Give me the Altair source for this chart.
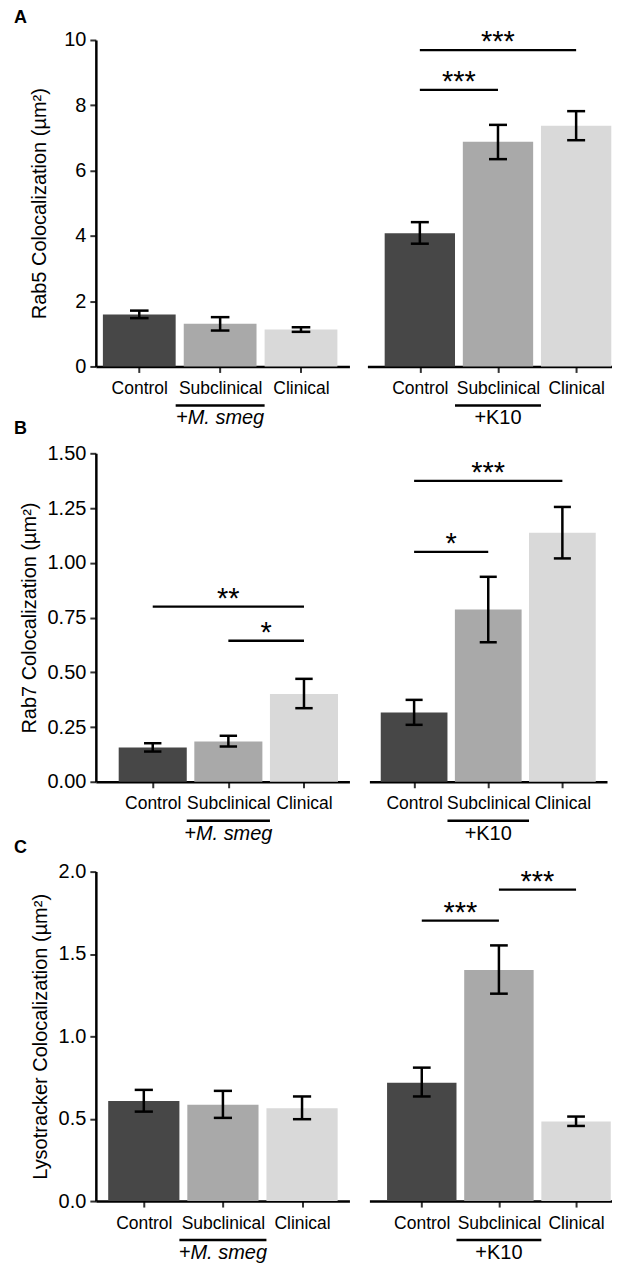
import altair as alt
import pandas as pd

FONT = "Liberation Sans"

categories = ["Control", "Subclinical", "Clinical"]
bar_colors = ["#474747", "#a9a9a9", "#d9d9d9"]
panel_letters = ["A", "B", "C"]

# ---- Panel A: Rab5 ----
rab5_smeg_mean = [1.59, 1.31, 1.13]
rab5_smeg_lo = [1.48, 1.10, 1.06]
rab5_smeg_hi = [1.71, 1.51, 1.20]
rab5_k10_mean = [4.08, 6.88, 7.37]
rab5_k10_lo = [3.76, 6.35, 6.93]
rab5_k10_hi = [4.42, 7.40, 7.82]
rab5_k10_sig_from = [0, 0]
rab5_k10_sig_to = [1, 2]
rab5_k10_sig_y = [8.47, 9.69]
rab5_k10_sig_text = ["***", "***"]

# ---- Panel B: Rab7 ----
rab7_smeg_mean = [0.156, 0.184, 0.401]
rab7_smeg_lo = [0.138, 0.161, 0.336]
rab7_smeg_hi = [0.176, 0.210, 0.470]
rab7_smeg_sig_from = [0, 1]
rab7_smeg_sig_to = [2, 2]
rab7_smeg_sig_y = [0.80, 0.644]
rab7_smeg_sig_text = ["**", "*"]
rab7_k10_mean = [0.316, 0.787, 1.137]
rab7_k10_lo = [0.260, 0.637, 1.020]
rab7_k10_hi = [0.374, 0.936, 1.255]
rab7_k10_sig_from = [0, 0]
rab7_k10_sig_to = [1, 2]
rab7_k10_sig_y = [1.05, 1.374]
rab7_k10_sig_text = ["*", "***"]

# ---- Panel C: Lysotracker ----
lyso_smeg_mean = [0.608, 0.584, 0.564]
lyso_smeg_lo = [0.543, 0.505, 0.497]
lyso_smeg_hi = [0.675, 0.669, 0.635]
lyso_k10_mean = [0.719, 1.402, 0.483]
lyso_k10_lo = [0.635, 1.259, 0.456]
lyso_k10_hi = [0.810, 1.552, 0.513]
lyso_k10_sig_from = [0, 1]
lyso_k10_sig_to = [1, 2]
lyso_k10_sig_y = [1.703, 1.891]
lyso_k10_sig_text = ["***", "***"]

group_smeg = "+M. smeg"
group_k10 = "+K10"


def panel(mean, lo, hi, sig, group, italic, ydomain, yticks, yfmt, ytitle,
          show_y, width, height, xdomain, letters=(), ytitle_pad=8):
    pos = list(range(len(categories)))
    df = pd.DataFrame({"pos": pos, "cat": categories, "mean": mean,
                       "lo": lo, "hi": hi})
    xs = alt.Scale(domain=xdomain, nice=False, zero=False)
    ys = alt.Scale(domain=ydomain, nice=False, zero=False)
    label_expr = "[" + ",".join("'%s'" % c for c in categories) + "][datum.value]"
    xaxis = alt.Axis(values=pos, labelExpr=label_expr, title=None, grid=False,
                     tickSize=6, tickWidth=2, tickColor="#333333",
                     domainColor="black", domainWidth=2.5,
                     labelFontSize=17.5, labelPadding=7, labelColor="black",
                     labelFont=FONT)
    if show_y:
        yaxis = alt.Axis(values=yticks, format=yfmt, title=ytitle, grid=False,
                         tickSize=6, tickWidth=2, tickColor="#333333",
                         domainColor="black", domainWidth=2.5,
                         labelFontSize=20, labelPadding=4, labelColor="black",
                         labelFont=FONT, titleFont=FONT, titleFontSize=20,
                         titleFontWeight="normal", titleColor="black",
                         titlePadding=ytitle_pad)
    else:
        yaxis = None

    def X(field):
        return alt.X(field, scale=xs, axis=xaxis)

    def Y(field):
        return alt.Y(field, scale=ys, axis=yaxis)

    base = alt.Chart(df)
    bars = base.transform_calculate(
        b0="datum.pos - 0.45", b1="datum.pos + 0.45"
    ).mark_bar().encode(
        x=X("b0:Q"),
        x2="b1:Q",
        y=Y("mean:Q"),
        y2=alt.Y2(datum=0),
        color=alt.Color("cat:N", scale=alt.Scale(domain=categories, range=bar_colors),
                        legend=None),
    )
    stems = base.mark_rule(color="black", strokeWidth=2.5).encode(
        x=X("pos:Q"),
        y=Y("lo:Q"),
        y2="hi:Q",
    )
    caps = base.transform_fold(["lo", "hi"], as_=["k", "v"]).transform_calculate(
        c0="datum.pos - 0.115", c1="datum.pos + 0.115"
    ).mark_rule(color="black", strokeWidth=2.5).encode(
        x=X("c0:Q"),
        x2="c1:Q",
        y=Y("v:Q"),
    )
    layers = [bars, stems, caps]

    if sig is not None:
        sfrom, sto, sy, stext = sig
        sdf = pd.DataFrame({"a": sfrom, "b": sto, "y": sy, "lab": stext})
        lines = alt.Chart(sdf).mark_rule(color="black", strokeWidth=2.3).encode(
            x=X("a:Q"),
            x2="b:Q",
            y=Y("y:Q"),
        )
        stars = alt.Chart(sdf).transform_calculate(
            m="(datum.a + datum.b) / 2"
        ).mark_text(fontSize=29, baseline="alphabetic", dy=1, font=FONT,
                    color="black").encode(
            x=X("m:Q"),
            y=Y("y:Q"),
            text="lab:N",
        )
        layers += [lines, stars]

    gdf = pd.DataFrame({"pos": [1], "lab": [group]})
    gline = alt.Chart(gdf).transform_calculate(
        g0="datum.pos - 0.55", g1="datum.pos + 0.55"
    ).mark_rule(color="black", strokeWidth=2.5).encode(
        x=X("g0:Q"),
        x2="g1:Q",
        y=alt.value(height + 39),
    )
    glabel = alt.Chart(gdf).mark_text(
        fontSize=20, font=FONT, baseline="middle", color="black",
        fontStyle="italic" if italic else "normal",
    ).encode(
        x=X("pos:Q"),
        y=alt.value(height + 52),
        text="lab:N",
    )
    layers += [gline, glabel]

    # panel letters (A, B, C) placed at the upper-left of each row
    for letter, ly in letters:
        ldf = pd.DataFrame({"lab": [letter]})
        layers.append(
            alt.Chart(ldf).mark_text(
                fontSize=18, fontWeight="bold", font=FONT, color="black",
                align="left", baseline="middle",
            ).encode(x=alt.value(-82), y=alt.value(ly), text="lab:N")
        )
    return alt.layer(*layers).properties(width=width, height=height)


A_left = panel(rab5_smeg_mean, rab5_smeg_lo, rab5_smeg_hi, None, group_smeg, True,
               [0, 10], [0, 2, 4, 6, 8, 10], "d", "Rab5 Colocalization (µm²)",
               True, 254, 327, [-0.537, 2.599],
               letters=[(panel_letters[0], -22), (panel_letters[1], 327 + 63)],
               ytitle_pad=14)
A_right = panel(rab5_k10_mean, rab5_k10_lo, rab5_k10_hi,
                (rab5_k10_sig_from, rab5_k10_sig_to, rab5_k10_sig_y, rab5_k10_sig_text),
                group_k10, False, [0, 10], [0, 2, 4, 6, 8, 10], "d", "",
                False, 245, 327, [-0.671, 2.459])

B_left = panel(rab7_smeg_mean, rab7_smeg_lo, rab7_smeg_hi,
               (rab7_smeg_sig_from, rab7_smeg_sig_to, rab7_smeg_sig_y, rab7_smeg_sig_text),
               group_smeg, True, [0, 1.5], [0, 0.25, 0.5, 0.75, 1.0, 1.25, 1.5], ".2f",
               "Rab7 Colocalization (µm²)", True, 254, 329, [-0.752, 2.601],
               letters=[(panel_letters[2], 329 + 66)])
B_right = panel(rab7_k10_mean, rab7_k10_lo, rab7_k10_hi,
                (rab7_k10_sig_from, rab7_k10_sig_to, rab7_k10_sig_y, rab7_k10_sig_text),
                group_k10, False, [0, 1.5], [0, 0.25, 0.5, 0.75, 1.0, 1.25, 1.5], ".2f",
                "", False, 238, 329, [-0.603, 2.602])

C_left = panel(lyso_smeg_mean, lyso_smeg_lo, lyso_smeg_hi, None, group_smeg, True,
               [0, 2], [0, 0.5, 1.0, 1.5, 2.0], ".1f",
               "Lysotracker Colocalization (µm²)", True, 254, 330, [-0.606, 2.599])
C_right = panel(lyso_k10_mean, lyso_k10_lo, lyso_k10_hi,
                (lyso_k10_sig_from, lyso_k10_sig_to, lyso_k10_sig_y, lyso_k10_sig_text),
                group_k10, False, [0, 2], [0, 0.5, 1.0, 1.5, 2.0], ".1f", "",
                False, 243, 330, [-0.679, 2.466])

row_a = alt.hconcat(A_left, A_right, spacing=18)
row_b = alt.hconcat(B_left, B_right, spacing=20)
row_c = alt.hconcat(C_left, C_right, spacing=20)

chart = alt.vconcat(row_a, row_b, row_c, spacing=5).properties(
    padding={"left": 6, "top": 0, "right": 0, "bottom": 0}
).configure(font=FONT).configure_view(stroke=None)

chart.save("out.html", embed_options={"renderer": "svg", "actions": False})
